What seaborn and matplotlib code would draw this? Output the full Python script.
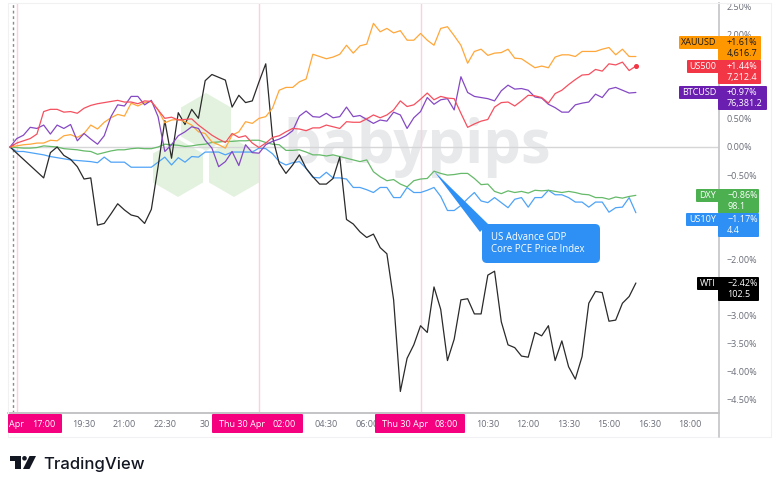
import matplotlib
matplotlib.use("Agg")
import matplotlib.pyplot as plt
from matplotlib.patches import FancyBboxPatch, Polygon, Rectangle, Circle
from matplotlib.transforms import Affine2D
import numpy as np
import pandas as pd
import seaborn as sns

# Percent change per 15-minute bar
wti = [0, -.11, -.22, -.33, -.44, -.55, -.10, 0, -.15, -.22, -.35, -.57, -.55, -1.39, -1.36, -1.19, -1.01, -1.12, -1.21, -1.24,
       -1.36, -1.11, -.35, .47, -.20, .61, .40, .67, .51, 1.18, 1.29, 1.24, 1.19, .71, .92, .79, .82, 1.16, 1.48, .18,
       -.29, -.47, -.32, -.14, -.38, -.53, -.66, -.66, -.56, -.18, -1.29, -1.37, -1.51, -1.61, -1.55, -1.79, -1.90, -2.72, -4.35, -3.76,
       -3.52, -3.18, -3.30, -2.49, -2.89, -3.80, -3.42, -2.72, -2.70, -2.97, -2.97, -2.28, -2.21, -3.11, -3.52, -3.57, -3.72, -3.74, -3.30, -3.36,
       -3.18, -3.80, -3.45, -3.91, -4.13, -3.73, -2.78, -2.57, -2.59, -3.10, -3.08, -2.78, -2.66, -2.42]
xauusd = [0, .02, .04, .05, .07, .07, .12, .11, .20, .22, .17, .24, .39, .32, .44, .52, .58, .55, .78, .73,
          .79, .81, .66, .43, .48, .49, .45, .39, .27, .24, .09, .04, -.02, .21, .27, .45, .42, .51, .54, .69,
          1.01, 1.06, 1.06, 1.16, 1.21, 1.65, 1.61, 1.57, 1.60, 1.65, 1.81, 1.67, 1.80, 1.83, 2.20, 2.05, 2.11, 2.03, 2.07, 1.90,
          1.90, 2.02, 1.90, 1.81, 2.11, 2.14, 1.98, 1.81, 1.49, 1.70, 1.74, 1.63, 1.67, 1.68, 1.74, 1.58, 1.57, 1.49, 1.41, 1.44,
          1.41, 1.60, 1.64, 1.64, 1.61, 1.70, 1.70, 1.70, 1.74, 1.77, 1.64, 1.74, 1.61, 1.61]
us500 = [0, .07, .11, .15, .23, .63, .67, .67, .62, .63, .60, .69, .74, .77, .79, .81, .83, .80, .80, .77,
         .82, .81, .66, .51, .53, .48, .49, .50, .39, .30, .21, .14, .08, .24, .17, .20, .07, -.01, .07, .17,
         .20, .27, .33, .32, .29, .34, .34, .39, .36, .33, .45, .44, .44, .50, .57, .52, .57, .66, .82, .72,
         .75, .85, .96, .84, .90, .87, .86, .60, .35, .41, .46, .49, .71, .79, .80, .73, .82, .92, .91, .88,
         .78, .95, 1.01, 1.11, 1.20, 1.28, 1.29, 1.38, 1.35, 1.48, 1.46, 1.51, 1.36, 1.44]
btcusd = [0, .15, .21, .35, .33, .39, .23, .39, .33, .40, .11, .24, .14, .05, .20, .54, .75, .73, .90, .90,
          .75, .83, .54, -.08, .04, .20, .27, .36, .33, .12, -.02, -.35, -.26, -.08, -.33, .04, -.10, -.11, .04, .10,
          .14, .20, .29, .55, .64, .54, .53, .60, .52, .54, .71, .54, .56, .49, .42, .48, .46, .62, .57, .33,
          .52, .63, .88, .76, .84, .86, .66, 1.25, .97, .90, .88, .86, .82, 1.00, 1.10, 1.03, 1.04, 1.01, .89, .87,
          .76, .70, .62, .62, .75, .78, .80, .94, .88, 1.03, 1.06, 1.01, .96, .97]
dxy = [0, -.01, -.02, -.02, -.01, .02, .01, 0, -.03, -.04, -.05, -.07, -.08, -.13, -.10, -.07, -.05, -.05, -.03, -.02,
       -.03, -.03, 0, .05, .04, .03, .01, .02, .04, .05, .08, .09, .10, .10, .11, .11, .12, .12, .08, .05,
       .04, -.06, -.06, -.05, -.09, -.14, -.14, -.16, -.14, -.17, -.20, -.23, -.26, -.23, -.44, -.53, -.60, -.58, -.66, -.71,
       -.60, -.57, -.56, -.43, -.47, -.50, -.49, -.47, -.47, -.56, -.67, -.66, -.79, -.83, -.78, -.81, -.79, -.82, -.77, -.78,
       -.77, -.79, -.81, -.79, -.81, -.84, -.85, -.90, -.90, -.93, -.89, -.91, -.88, -.86]
us10y = [0, -.08, -.08, -.10, -.12, -.14, -.17, -.19, -.21, -.23, -.24, -.25, -.26, -.28, -.18, -.27, -.27, -.27, -.36, -.36,
         -.36, -.36, -.27, -.18, -.32, -.19, -.27, -.17, -.18, -.09, -.09, -.09, -.14, -.09, -.09, -.09, -.09, -.02, -.03, -.12,
         -.26, -.32, -.28, -.26, -.38, -.54, -.55, -.45, -.55, -.55, -.57, -.72, -.72, -.76, -.81, -.72, -.72, -.90, -.90, -.72,
         -.81, -.81, -.77, -.72, -.88, -1.13, -1.13, -1.04, -.92, -.81, -.96, -.99, -.90, -.99, -1.08, -.93, -.90, -1.07, -.90, -.90,
         -.77, -.85, -.85, -.90, -.98, -.98, -1.07, -.98, -.98, -1.16, -1.08, -1.07, -.90, -1.17]

series = {"US10Y": us10y, "DXY": dxy, "WTI": wti, "XAUUSD": xauusd, "BTCUSD": btcusd, "US500": us500}
line_colors = {"XAUUSD": "#ffa73a", "US500": "#f5505f", "BTCUSD": "#8549c4",
               "DXY": "#66ba6a", "US10Y": "#4fa3f7", "WTI": "#2a2a2a"}

# Right-hand tags: name, change, last price, colour, text colour, top, left edge, right edge
tags = [("XAUUSD", "+1.61%", "4,616.7", "#ff9800", "#131722", 36, 679, 761),
        ("US500", "+1.44%", "7,212.4", "#f23645", "#ffffff", 60, 687, 761),
        ("BTCUSD", "+0.97%", "76,381.2", "#6a1fb0", "#ffffff", 86, 679, 767),
        ("DXY", "\u22120.86%", "98.1", "#4caf50", "#ffffff", 189, 696, 759),
        ("US10Y", "\u22121.17%", "4.4", "#2e90f5", "#ffffff", 213, 686, 759),
        ("WTI", "\u22122.42%", "102.5", "#000000", "#ffffff", 277, 697, 759)]

# Scale levels that stay clear of the tags
y_ticks = [2.5, 2, .5, 0, -.5, -2, -3, -3.5, -4, -4.5]
x_tick_pos = [5, 11, 17, 23, 29, 47, 53, 71, 77, 83, 89, 95, 101]
x_tick_labels = ["17:00", "19:30", "21:00", "22:30", "30", "04:30", "06:00", "10:30", "12:00", "13:30", "15:00", "16:30", "18:00"]
session_lines = [1, 37, 61]
range_start = 0.45

frame = pd.DataFrame(series).rename_axis("bar").reset_index().melt("bar", var_name="symbol", value_name="pct")

sns.set_theme(style="white")
plt.rcParams["font.family"] = ["Open Sans", "DejaVu Sans"]

W, H = 780, 488
fig = plt.figure(figsize=(W / 100, H / 100), dpi=100, facecolor="white")
ax = fig.add_axes([8 / W, 1 - 413 / H, (719 - 8) / W, (413 - 3) / H])
px = Affine2D().scale(1 / W, -1 / H).translate(0, 1) + fig.transFigure

GREY = "#6a6d78"
PINK = "#f5007f"
SMALL = 6.5

# Watermark behind the lines
for cx, cy in [(178, 168), (206, 122), (234, 168)]:
    hexagon = [(cx, cy - 29), (cx + 25, cy - 14.5), (cx + 25, cy + 14.5),
               (cx, cy + 29), (cx - 25, cy + 14.5), (cx - 25, cy - 14.5)]
    ax.add_patch(Polygon(hexagon, closed=True, transform=px, facecolor="#e3f2df", edgecolor="none", zorder=0))
ax.text(417, 163, "babypips", transform=px, fontsize=43, fontweight="bold", family="Open Sans",
        color="#e8e9eb", ha="center", va="baseline", zorder=0.5)

ax.axhline(0, color="#d6d6d8", lw=1, zorder=1)
for pos in session_lines:
    ax.axvline(pos, color="#fdcfe4", lw=1, zorder=1)
ax.axvline(range_start, color="#8a8a8a", lw=1, ls=(0, (2, 2)), zorder=1)

sns.lineplot(data=frame, x="bar", y="pct", hue="symbol", palette=line_colors,
             hue_order=list(series), estimator=None, sort=False, lw=0.9, legend=False, ax=ax, zorder=3)
ax.plot(len(us500) - 1, us500[-1], "o", color="#f23645", ms=2.6, zorder=4)

ax.set_xlim(-0.3, 105.35)
ax.set_ylim(-4.733, 2.562)
ax.set(xlabel="", ylabel="")
ax.yaxis.tick_right()
ax.set_yticks(y_ticks, [f"{v:.2f}%".replace("-", "\u2212") for v in y_ticks])
ax.set_xticks(x_tick_pos, x_tick_labels)
ax.tick_params(axis="both", length=0, labelsize=SMALL, colors=GREY)
ax.tick_params(axis="x", pad=5)
ax.tick_params(axis="y", pad=5.5)
for side in ("top", "left"):
    ax.spines[side].set_visible(False)
ax.spines["right"].set_color("#c4c4c6")
ax.spines["right"].set_linewidth(1.2)
ax.spines["bottom"].set_color("#c4c4c6")
ax.spines["bottom"].set_linewidth(1.4)

# Faint outer frame of the chart panel
fig.add_artist(Rectangle((8, 3), 763, 434, transform=px, fill=False, edgecolor="#f1f1f3", lw=0.8))
fig.add_artist(plt.Line2D([719, 719], [413, 437], transform=px, color="#c4c4c6", lw=1.2))

# Highlighted time range labels on the axis
for left, right, parts in [(8, 62, [("Apr", 16), ("17:00", 44)]),
                           (212, 303, [("Thu 30 Apr", 242), ("02:00", 284.5)]),
                           (375, 465, [("Thu 30 Apr", 404.5), ("08:00", 446.5)])]:
    fig.add_artist(FancyBboxPatch((left, 414), right - left, 19, boxstyle="round,pad=0,rounding_size=1",
                                  transform=px, facecolor=PINK, edgecolor="none"))
    for label, cx in parts:
        fig.text(cx, 424.5, label, transform=px, color="white", fontsize=SMALL, ha="center", va="center")

# Last-value tags beside the price scale
for name, change, price, color, text_color, top, left, right in tags:
    fig.add_artist(FancyBboxPatch((left, top), 719 - left, 13, boxstyle="round,pad=0,rounding_size=1",
                                  transform=px, facecolor=color, edgecolor="none"))
    fig.add_artist(FancyBboxPatch((718, top), right - 718, 24, boxstyle="round,pad=0,rounding_size=1",
                                  transform=px, facecolor=color, edgecolor="none"))
    fig.text((left + 719) / 2, top + 6.5, name, transform=px, color=text_color, fontsize=SMALL, ha="center", va="center")
    fig.text(727, top + 6.5, change, transform=px, color=text_color, fontsize=SMALL, ha="left", va="center")
    fig.text(727, top + 17.5, price, transform=px, color=text_color, fontsize=SMALL, ha="left", va="center")

# Event callout pointing at the dollar index line
BLUE = "#2e90f5"
tip = ax.transData.transform((63, dxy[63]))
tip_px = (tip[0], H - tip[1])
fig.add_artist(Polygon([tip_px, (488, 224), (480, 232)], closed=True, transform=px, facecolor=BLUE, edgecolor="none"))
fig.add_artist(FancyBboxPatch((482, 224), 118, 39, boxstyle="round,pad=0,rounding_size=5",
                              transform=px, facecolor=BLUE, edgecolor="none"))
fig.text(491, 237, "US Advance GDP", transform=px, color="white", fontsize=6.9, va="center")
fig.text(491, 249, "Core PCE Price Index", transform=px, color="white", fontsize=6.9, va="center")

# Footer brand mark
BLACK = "#131722"
fig.add_artist(Polygon([(10, 456), (21, 456), (21, 469), (15, 469), (15, 460.5), (10, 460.5)],
                       closed=True, transform=px, facecolor=BLACK, edgecolor="none"))
fig.add_artist(Circle((24.5, 458.3), 2.3, transform=px, facecolor=BLACK, edgecolor="none"))
fig.add_artist(Polygon([(29.5, 456), (36, 456), (29.5, 469), (23, 469)],
                       closed=True, transform=px, facecolor=BLACK, edgecolor="none"))
fig.text(43, 469, "TradingView", transform=px, color=BLACK, fontsize=12, family="Inter", fontweight="medium", va="baseline")

fig.savefig("out.png", dpi=100)
